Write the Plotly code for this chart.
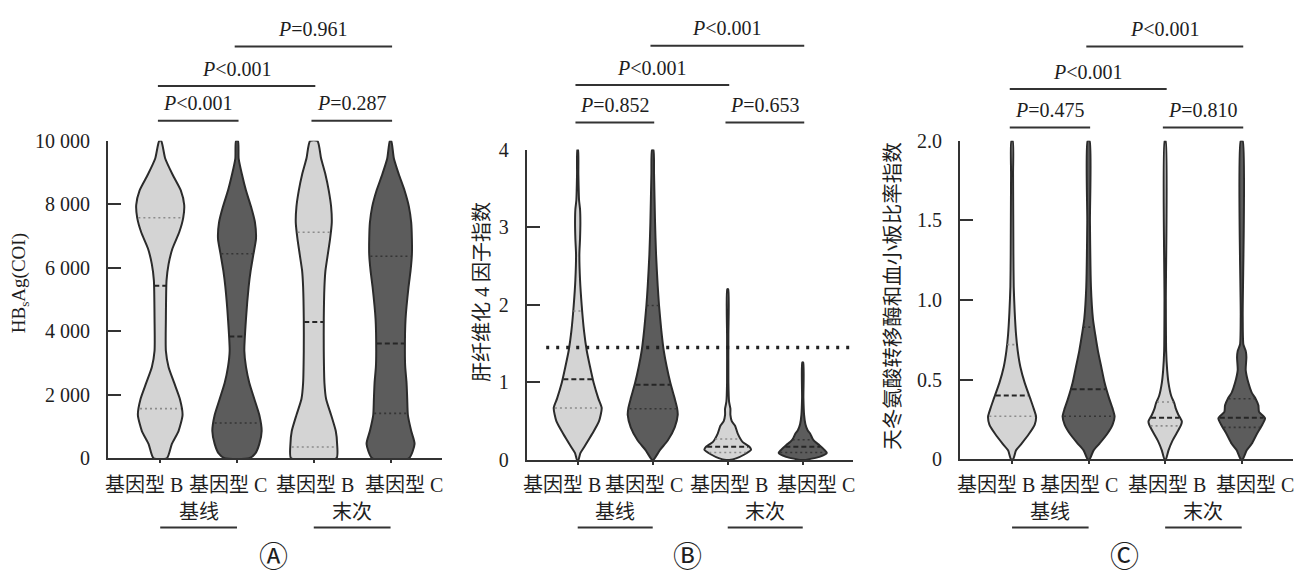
import numpy as np
import plotly.graph_objects as go

FIG_W, FIG_H = 1305, 578

# ---------------- data ----------------
CATEGORIES = ["基因型 B", "基因型 C", "基因型 B", "基因型 C"]
PHASES = ["基线", "末次"]
PANEL_MARKS = ["Ⓐ", "Ⓑ", "Ⓒ"]
Y_TITLES = ["HB<sub>s</sub>Ag(COI)", "肝纤维化 4 因子指数", "天冬氨酸转移酶和血小板比率指数"]

A_TICKVALS = [0, 2000, 4000, 6000, 8000, 10000]
A_TICKTEXT = ["0", "2 000", "4 000", "6 000", "8 000", "10 000"]
B_TICKVALS = [0, 1, 2, 3, 4]
B_TICKTEXT = ["0", "1", "2", "3", "4"]
C_TICKVALS = [0, 0.5, 1.0, 1.5, 2.0]
C_TICKTEXT = ["0", "0.5", "1.0", "1.5", "2.0"]

# violin density profiles (value levels, relative density width), quartiles [Q1, median, Q3]
A1_Y = [0, 455, 859, 1364, 1869, 2374, 2879, 3384, 4394, 5606, 6111, 6616, 7121, 7576, 7980, 8434, 8939, 9444, 10000]
A1_W = [20, 35, 55, 67, 59, 42, 25, 17, 17, 19, 25, 37, 57, 69, 72, 62, 37, 15, 3]
A1_Q = [1566, 5434, 7576]
A2_Y = [0, 152, 455, 859, 1364, 1869, 2374, 2879, 3384, 4394, 5404, 5909, 6414, 6919, 7424, 7929, 8434, 8939, 9444, 10000]
A2_W = [37, 55, 67, 74, 67, 52, 37, 27, 22, 27, 35, 41, 49, 57, 54, 42, 27, 15, 5, 3]
A2_Q = [1111, 3838, 6444]
A3_Y = [0, 455, 859, 1364, 1869, 2374, 3384, 4394, 5404, 5909, 6414, 6919, 7424, 7929, 8434, 8939, 9444, 10000]
A3_W = [68, 70, 66, 52, 37, 32, 30, 30, 32, 35, 42, 49, 54, 52, 45, 35, 22, 11]
A3_Q = [354, 4293, 7121]
A4_Y = [0, 455, 859, 1364, 1869, 2374, 2879, 3384, 4394, 5404, 5909, 6414, 6919, 7424, 7929, 8434, 8939, 9444, 10000]
A4_W = [55, 72, 62, 52, 50, 48, 44, 43, 45, 54, 60, 64, 64, 62, 55, 42, 25, 10, 2]
A4_Q = [1414, 3616, 6364]

B1_Y = [0, 0.088, 0.17, 0.34, 0.50, 0.67, 0.79, 0.99, 1.2, 1.41, 1.66, 1.99, 2.32, 2.65, 2.85, 3.06, 3.23, 3.35, 3.68, 4.0]
B1_W = [2, 8, 20, 44, 64, 72, 62, 48, 37, 27, 19, 12, 7, 5, 7, 8, 7, 4, 2, 1]
B1_Q = [0.67, 1.04, 1.92]
B2_Y = [0, 0.13, 0.25, 0.42, 0.58, 0.67, 0.79, 0.99, 1.2, 1.41, 1.66, 1.99, 2.24, 2.65, 3.06, 3.68, 4.0]
B2_W = [2, 22, 45, 66, 75, 73, 66, 53, 42, 33, 26, 19, 15, 10, 7, 4, 2]
B2_Q = [0.66, 0.97, 1.99]
B3_Y = [0, 0.02, 0.07, 0.13, 0.17, 0.23, 0.34, 0.44, 0.50, 0.58, 0.66, 0.75, 1.0, 1.6, 2.2]
B3_W = [5, 25, 50, 70, 65, 45, 30, 22, 12, 8, 8, 4, 2, 2, 1.5]
B3_Q = [0.095, 0.17, 0.27]
B4_Y = [0, 0.04, 0.09, 0.13, 0.19, 0.23, 0.27, 0.34, 0.38, 0.46, 0.58, 0.8, 1.255]
B4_W = [5, 50, 72, 65, 50, 38, 30, 22, 15, 8, 4, 2, 1.5]
B4_Q = [0.095, 0.17, 0.26]
FIB4_CUTOFF = 1.45

C1_Y = [0, 0.056, 0.097, 0.157, 0.218, 0.268, 0.318, 0.379, 0.480, 0.580, 0.681, 0.782, 0.922, 1.084, 1.286, 1.79, 2.0]
C1_W = [3, 12, 28, 50, 68, 72, 65, 55, 38, 25, 17, 12, 8, 5, 4, 3, 2]
C1_Q = [0.27, 0.40, 0.72]
C2_Y = [0, 0.056, 0.097, 0.157, 0.218, 0.268, 0.318, 0.379, 0.480, 0.580, 0.681, 0.782, 0.882, 1.084, 1.49, 2.0]
C2_W = [3, 15, 32, 55, 72, 78, 72, 62, 48, 38, 28, 20, 13, 7, 4, 3]
C2_Q = [0.27, 0.44, 0.83]
C3_Y = [0, 0.056, 0.117, 0.177, 0.218, 0.238, 0.278, 0.318, 0.349, 0.399, 0.480, 0.560, 0.681, 1.0, 2.0]
C3_W = [2, 10, 22, 38, 48, 50, 40, 32, 28, 18, 10, 6, 3, 2, 1.5]
C3_Q = [0.21, 0.26, 0.36]
C4_Y = [0, 0.056, 0.097, 0.157, 0.218, 0.258, 0.298, 0.339, 0.379, 0.419, 0.480, 0.560, 0.641, 0.681, 0.721, 0.9, 2.0]
C4_W = [3, 15, 30, 45, 62, 70, 52, 50, 42, 30, 20, 12, 14, 12, 5, 3, 3]
C4_Q = [0.20, 0.26, 0.38]

COMPARE_PAIRS = [(0, 1), (2, 3), (0, 2), (1, 3)]
COMPARE_LEVEL = [0, 0, 1, 2]
A_P = ["<i>P</i>&lt;0.001", "<i>P</i>=0.287", "<i>P</i>&lt;0.001", "<i>P</i>=0.961"]
B_P = ["<i>P</i>=0.852", "<i>P</i>=0.653", "<i>P</i>&lt;0.001", "<i>P</i>&lt;0.001"]
C_P = ["<i>P</i>=0.475", "<i>P</i>=0.810", "<i>P</i>&lt;0.001", "<i>P</i>&lt;0.001"]

# ---------------- layout / style ----------------
X_RANGE = [-0.68, 3.67]
PANEL_PX = [  # x0, x1, y_top, y_bottom (pixels)
    (108, 442, 135, 465),
    (526.7, 853, 144, 466.7),
    (960, 1293, 135, 466),
]
LEVEL_PX = [[114, 78, 37], [116, 77, 36], [121, 81, 37]]
Y_TITLE_PX = [(20, 283), (482, 292), (893, 296)]
Y_TITLE_SIZE = [19, 20, 20.5]
LABEL_X = [-0.21, 0.88, 2.02, 3.18]
LIGHT, DARK = "#d4d4d4", "#5c5c5c"
OUTLINE = "#2b2b2b"
SERIF = "Liberation Serif, Noto Sans CJK SC, serif"
TXT = "#1e1e1e"

panels = [
    dict(v=[(A1_Y, A1_W, A1_Q), (A2_Y, A2_W, A2_Q), (A3_Y, A3_W, A3_Q), (A4_Y, A4_W, A4_Q)],
         yrange=[0, 10000], tv=A_TICKVALS, tt=A_TICKTEXT, p=A_P),
    dict(v=[(B1_Y, B1_W, B1_Q), (B2_Y, B2_W, B2_Q), (B3_Y, B3_W, B3_Q), (B4_Y, B4_W, B4_Q)],
         yrange=[0, 4], tv=B_TICKVALS, tt=B_TICKTEXT, p=B_P),
    dict(v=[(C1_Y, C1_W, C1_Q), (C2_Y, C2_W, C2_Q), (C3_Y, C3_W, C3_Q), (C4_Y, C4_W, C4_Q)],
         yrange=[0, 2], tv=C_TICKVALS, tt=C_TICKTEXT, p=C_P),
]

def py(px):
    return 1 - px / FIG_H

fig = go.Figure()
shapes, annotations = [], []

for pi, pn in enumerate(panels):
    sfx = "" if pi == 0 else str(pi + 1)
    xa, ya = "x" + sfx, "y" + sfx
    x0, x1, yt, yb = PANEL_PX[pi]
    px_per_unit = (x1 - x0) / (X_RANGE[1] - X_RANGE[0])
    wscale = 1.0 / (3.0 * px_per_unit)

    for vi, (Y, W, Q) in enumerate(pn["v"]):
        Y = np.asarray(Y, float)
        hw = np.asarray(W, float) * wscale
        fill = LIGHT if vi % 2 == 0 else DARK
        xs = np.concatenate([vi + hw, (vi - hw)[::-1], [vi + hw[0]]])
        ys = np.concatenate([Y, Y[::-1], [Y[0]]])
        fig.add_trace(go.Scatter(x=xs, y=ys, mode="lines", fill="toself", fillcolor=fill,
                                 line=dict(color=OUTLINE, width=2, shape="spline", smoothing=0.6),
                                 xaxis=xa, yaxis=ya, hoverinfo="skip", showlegend=False))
        for qi, q in enumerate(Q):
            h = float(np.interp(q, Y, np.asarray(W, float))) * wscale * 0.95
            if qi == 1:
                ln = dict(color="#262626", width=2, dash="5px,3px")
            else:
                ln = dict(color="#8c8c8c" if vi % 2 == 0 else "#353535", width=1.6, dash="2px,3px")
            fig.add_trace(go.Scatter(x=[vi - h, vi + h], y=[q, q], mode="lines", line=ln,
                                     xaxis=xa, yaxis=ya, hoverinfo="skip", showlegend=False))

    if pi == 1:
        fig.add_trace(go.Scatter(x=[-0.42, 3.64], y=[FIB4_CUTOFF, FIB4_CUTOFF], mode="lines",
                                 line=dict(color="#222222", width=3.5, dash="3px,7px"),
                                 xaxis=xa, yaxis=ya, hoverinfo="skip", showlegend=False))

    dom_x = [x0 / FIG_W, x1 / FIG_W]
    dom_y = [py(yb), py(yt)]
    fig.layout["xaxis" + sfx] = dict(
        domain=dom_x, range=X_RANGE, anchor=ya, showline=True, linecolor="#333333", linewidth=2,
        ticks="outside", ticklen=3, tickwidth=1.5, tickcolor="#333333", tickvals=[0, 1, 2, 3],
        showticklabels=False, showgrid=False, zeroline=False, fixedrange=True)
    fig.layout["yaxis" + sfx] = dict(
        domain=dom_y, range=pn["yrange"], anchor=xa, showline=True, linecolor="#333333", linewidth=2,
        ticks="inside", ticklen=13, tickwidth=2, tickcolor="#333333",
        tickvals=pn["tv"], ticktext=pn["tt"], ticklabelstandoff=12,
        tickfont=dict(family=SERIF, size=20, color=TXT),
        showgrid=False, zeroline=False, fixedrange=True)

    # category labels
    for i, c in enumerate(CATEGORIES):
        annotations.append(dict(text=c, x=LABEL_X[i], xref=xa, y=py(493), yref="paper",
                                showarrow=False, font=dict(family=SERIF, size=20, color=TXT),
                                xanchor="center", yanchor="middle"))
    # phase labels + underlines
    for k, ph in enumerate(PHASES):
        annotations.append(dict(text=ph, x=2 * k + 0.5, xref=xa, y=py(521), yref="paper",
                                showarrow=False, font=dict(family=SERIF, size=20, color=TXT),
                                xanchor="center", yanchor="middle"))
        shapes.append(dict(type="line", xref=xa, yref="paper", x0=2 * k, x1=2 * k + 1,
                           y0=py(537), y1=py(537), line=dict(color="#333333", width=2)))
    annotations.append(dict(text=PANEL_MARKS[pi], x=1.47, xref=xa, y=py(565), yref="paper",
                            showarrow=False, font=dict(family="Noto Sans CJK SC, DejaVu Sans", size=29, color=TXT),
                            xanchor="center", yanchor="middle"))
    # y title
    tx, ty = Y_TITLE_PX[pi]
    annotations.append(dict(text=Y_TITLES[pi], x=tx / FIG_W, xref="paper", y=py(ty), yref="paper",
                            textangle=-90, showarrow=False,
                            font=dict(family=SERIF, size=Y_TITLE_SIZE[pi], color=TXT),
                            xanchor="center", yanchor="middle"))
    # comparison brackets
    for ci, (a, b) in enumerate(COMPARE_PAIRS):
        ly = LEVEL_PX[pi][COMPARE_LEVEL[ci]]
        xa0, xa1 = a - 0.03, b + 0.02
        shapes.append(dict(type="line", xref=xa, yref="paper", x0=xa0, x1=xa1,
                           y0=py(ly), y1=py(ly), line=dict(color="#333333", width=2)))
        annotations.append(dict(text=pn["p"][ci], x=(xa0 + xa1) / 2, xref=xa, y=py(ly - 18),
                                yref="paper", showarrow=False,
                                font=dict(family=SERIF, size=20, color=TXT),
                                xanchor="center", yanchor="middle"))

fig.update_layout(width=FIG_W, height=FIG_H, autosize=False,
                  margin=dict(l=0, r=0, t=0, b=0),
                  paper_bgcolor="white", plot_bgcolor="white",
                  shapes=shapes, annotations=annotations, showlegend=False)

fig.write_html("out.html", config={"displayModeBar": False},
               post_script="document.body.style.margin='0';")
